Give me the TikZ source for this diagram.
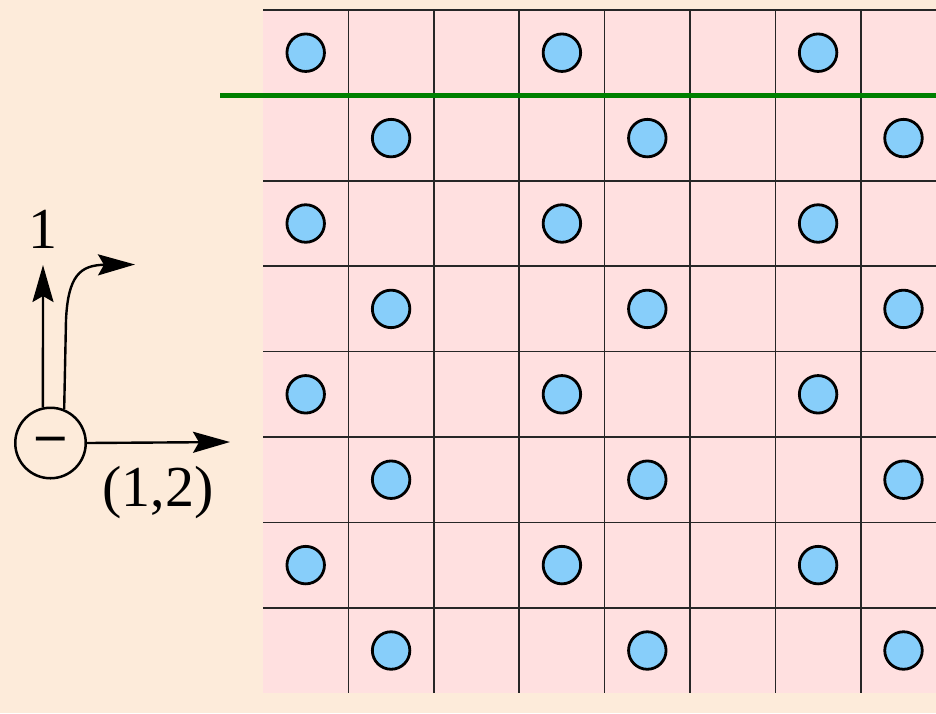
\documentclass[tikz,border=0pt]{standalone}
\usepackage{fontspec}
\setmainfont{Liberation Serif}
\newfontfamily\djv{DejaVu Sans}
\usetikzlibrary{arrows.meta}
\definecolor{bg}{HTML}{FDEBDA}
\definecolor{cellpink}{HTML}{FFE0E0}
\definecolor{dotblue}{HTML}{87CEFA}
\definecolor{lgreen}{HTML}{008000}
\begin{document}
\begin{tikzpicture}[x=1pt,y=-1pt,
  dotnode/.style={circle,draw=black,line width=2.8pt,fill=dotblue,minimum size=37.5pt,inner sep=0pt},
  gridline/.style={black!85,line width=1.5pt},
  arr/.style={line width=2.4pt,-{Stealth[length=37pt,width=21pt,inset=6pt]}},
  lbl/.style={font=\fontsize{58}{60}\selectfont,inner sep=0pt}]
\fill[bg] (0,0) rectangle (936,713);
\useasboundingbox (0,0) rectangle (936,713);
% lattice
\fill[cellpink] (263,10) rectangle (936,693.2);
\foreach \i in {1,...,7} \draw[gridline] ({263+85.4*\i},10) -- ({263+85.4*\i},693.2);
\foreach \j in {0,...,7} \draw[gridline] (263,{10+85.4*\j}) -- (936,{10+85.4*\j});
\foreach \r in {0,...,7}{
  \pgfmathtruncatemacro{\off}{mod(\r,2)}
  \foreach \k in {0,3,6}{
    \pgfmathtruncatemacro{\c}{\k+\off}
    \node[dotnode] (d\r-\c) at ({263+85.4*(\c+0.5)},{10+85.4*(\r+0.5)}) {};
  }}
\draw[lgreen,line width=5.5pt] (220,95.5) -- (936,95.5);
% charge with arrows
\node[circle,draw=black,line width=2.5pt,minimum size=70.5pt,inner sep=0pt] (q) at (50.5,443) {};
\node[inner sep=0pt,font=\djv\fontsize{46}{46}\selectfont] (qm) at ([yshift=-2pt]q.center) {−};
\coordinate (up) at (43,265);
\coordinate (bend) at (135,264.5);
\coordinate (right) at (230,442);
\draw[arr] (q.102) -- (up);
\draw[arr] (q.68) -- (66,320) .. controls (68,276) and (80,265) .. (bend);
\draw[arr] (q.east) -- (right);
\node[lbl] (one) at (43,229) {1};
\node[lbl] (lab) at (158,493) {(1,2)};
\end{tikzpicture}
\end{document}
